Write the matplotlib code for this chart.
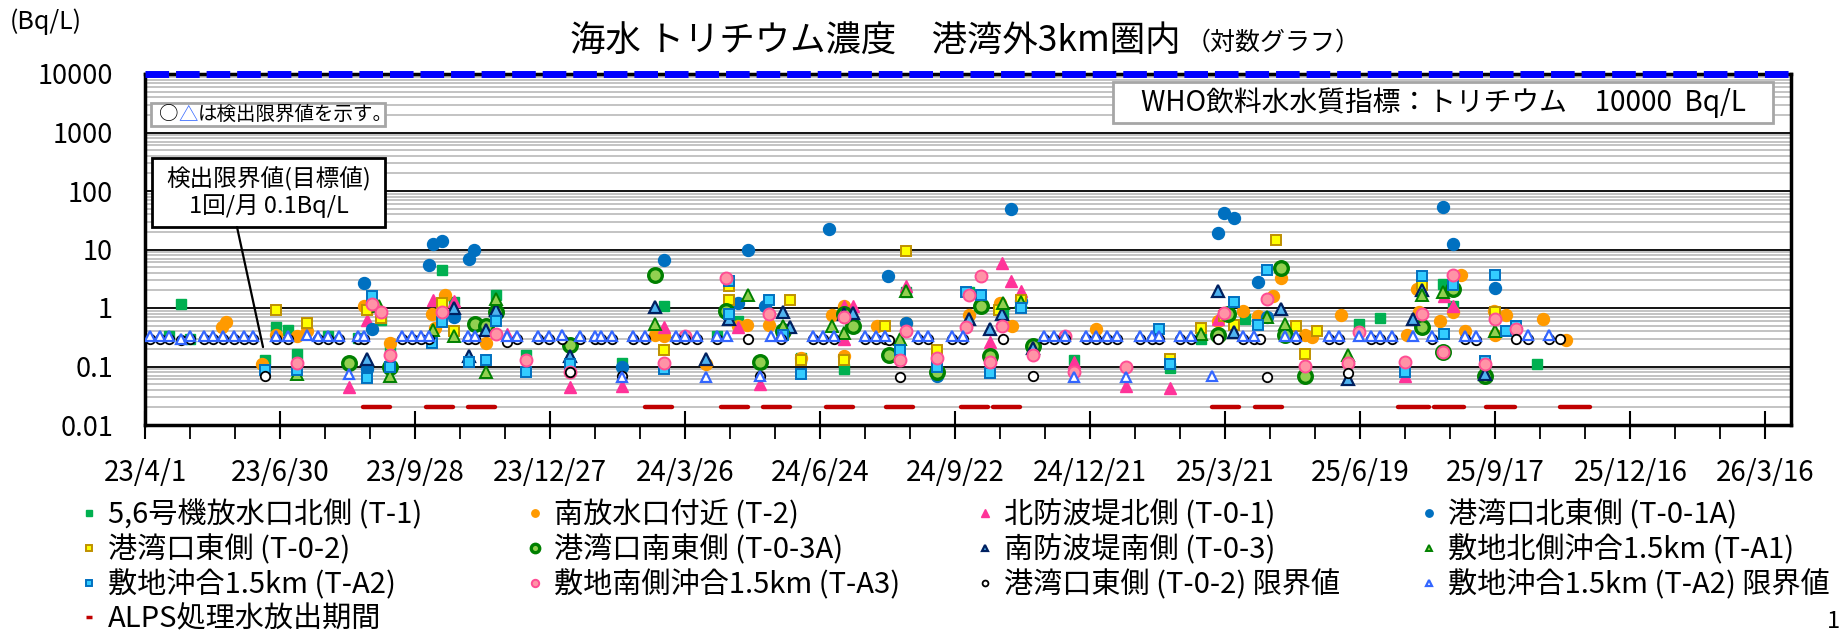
import numpy as np
import pandas as pd
import matplotlib
matplotlib.use('Agg')
import matplotlib.pyplot as plt
from matplotlib.lines import Line2D
from matplotlib.patches import Rectangle
from matplotlib.ticker import FixedLocator, LogLocator, NullFormatter

plt.rcParams['font.family'] = ['Noto Sans CJK JP', 'DejaVu Sans']

# 採取日は 2023/4/1 からの経過日数
START = np.datetime64('2023-04-01')
X_END = np.datetime64('2026-04-02')
WHO_LIMIT = 10000
ALPS_LEVEL = 0.02

t1_day = [16, 24, 30, 80, 87, 95, 101, 122, 142, 157,
          163, 198, 206, 234, 254, 318, 346, 381, 395, 437,
          466, 507, 549, 572, 619, 683, 704, 733, 809, 823,
          865, 872, 893, 928]
t1_val = [0.33, 1.19, 0.30, 0.127, 0.47, 0.42, 0.165, 0.33, 0.31, 0.63,
          0.19, 4.4, 1.27, 1.65, 0.16, 0.115, 1.1, 0.33, 0.61, 0.14,
          0.089, 1.9, 1.9, 0.8, 0.13, 0.095, 0.3, 0.66, 0.54, 0.67,
          2.6, 1.07, 0.11, 0.11]

t2_day = [51, 54, 78, 87, 101, 108, 146, 163, 191, 193,
          200, 227, 340, 346, 374, 395, 401, 416, 425, 437,
          458, 466, 466, 488, 507, 549, 570, 578, 634, 715,
          732, 742, 752, 757, 773, 778, 797, 841, 848, 849,
          863, 872, 877, 880, 899, 900, 907, 932, 947]
t2_val = [0.47, 0.58, 0.11, 0.35, 0.33, 0.41, 1.07, 0.25, 0.8, 0.45,
          1.7, 0.25, 0.34, 0.33, 0.11, 0.5, 0.52, 0.52, 0.34, 0.14,
          0.75, 1.1, 0.15, 0.5, 0.55, 0.75, 1.2, 0.5, 0.43, 0.6,
          0.9, 0.73, 1.6, 3.2, 0.34, 0.32, 0.75, 0.34, 2.1, 0.85,
          0.6, 0.85, 3.6, 0.41, 0.9, 0.35, 0.75, 0.66, 0.28]

t01_day = [136, 148, 192, 206, 241, 283, 318, 346, 395, 410,
           466, 466, 472, 507, 563, 571, 577, 584, 619, 654,
           683, 715, 840, 866, 872]
t01_val = [0.044, 0.63, 1.35, 1.3, 0.36, 0.044, 0.047, 0.48, 0.48, 0.05,
           1.1, 0.29, 1.07, 2.35, 0.26, 5.9, 2.9, 1.96, 0.12, 0.047,
           0.043, 0.65, 0.07, 1.6, 1.1]

t01a_day = [146, 148, 151, 189, 192, 198, 206, 216, 219, 318,
            346, 395, 402, 413, 456, 495, 507, 528, 577, 584,
            715, 719, 726, 742, 748, 865, 872, 900]
t01a_val = [2.7, 0.09, 0.44, 5.5, 12.6, 14, 0.7, 7, 9.7, 0.1,
            6.6, 1.23, 9.7, 1.1, 22, 3.5, 0.55, 0.068, 50, 1.3,
            19.3, 42.6, 35, 2.8, 0.7, 54, 12.3, 2.2]

t02_day = [87, 108, 148, 157, 198, 206, 346, 389, 389, 430,
           437, 466, 493, 507, 528, 569, 584, 683, 704, 719,
           726, 754, 767, 773, 781, 851, 900]
t02_val = [0.91, 0.55, 0.91, 0.68, 1.2, 0.41, 0.195, 2.35, 1.35, 1.35,
           0.13, 0.13, 0.5, 9.4, 0.19, 0.94, 1.39, 0.135, 0.45, 0.72,
           0.52, 14.5, 0.5, 0.165, 0.41, 2.5, 0.85]

t03a_day = [136, 163, 220, 227, 234, 283, 340, 387, 410, 425,
            466, 472, 496, 528, 557, 563, 592, 715, 722, 757,
            760, 773, 851, 865, 872, 893]
t03a_val = [0.114, 0.1, 0.54, 0.5, 0.85, 0.23, 3.7, 0.89, 0.12, 0.41,
            0.8, 0.5, 0.16, 0.08, 1.1, 0.15, 0.22, 0.34, 0.8, 4.9,
            0.34, 0.07, 0.47, 0.18, 2.15, 0.068]

t03_day = [148, 206, 216, 227, 234, 283, 340, 374, 389, 425,
           430, 466, 472, 549, 563, 571, 592, 715, 726, 757,
           802, 845, 851, 893]
t03_val = [0.135, 1.0, 0.15, 0.42, 0.94, 0.15, 1.04, 0.135, 0.66, 0.85,
           0.48, 0.8, 0.82, 0.66, 0.44, 0.8, 0.21, 1.95, 0.39, 0.97,
           0.06, 0.66, 2.0, 0.075]

ta1_day = [101, 156, 163, 192, 206, 227, 234, 340, 402, 425,
           458, 466, 503, 507, 572, 584, 704, 748, 760, 802,
           851, 865, 900]
ta1_val = [0.075, 1.1, 0.07, 0.42, 0.33, 0.08, 1.45, 0.54, 1.7, 0.49,
           0.5, 0.37, 0.3, 1.95, 1.2, 1.27, 0.36, 0.7, 0.54, 0.16,
           1.7, 1.9, 0.41]

ta2_day = [80, 101, 148, 151, 163, 191, 198, 216, 227, 234,
           254, 283, 346, 389, 389, 416, 425, 437, 503, 528,
           547, 557, 563, 584, 676, 683, 726, 742, 748, 840,
           851, 866, 872, 893, 900, 907, 914]
ta2_val = [0.088, 0.088, 0.063, 1.6, 0.1, 0.25, 0.58, 0.12, 0.13, 0.6,
           0.08, 0.11, 0.09, 2.9, 0.78, 1.35, 0.34, 0.075, 0.195, 0.1,
           1.9, 1.65, 0.077, 1.0, 0.44, 0.11, 1.27, 0.52, 4.4, 0.08,
           3.5, 0.36, 2.45, 0.126, 3.7, 0.4, 0.5]

ta3_day = [101, 151, 157, 163, 198, 234, 254, 283, 346, 360,
           387, 416, 466, 503, 507, 528, 547, 549, 557, 563,
           571, 592, 613, 619, 654, 719, 748, 773, 802, 809,
           840, 851, 865, 872, 893, 900, 914]
ta3_val = [0.115, 1.19, 0.85, 0.16, 0.85, 0.36, 0.13, 0.08, 0.115, 0.33,
           3.3, 0.8, 0.7, 0.13, 0.41, 0.14, 0.47, 1.7, 3.5, 0.12,
           0.5, 0.16, 0.33, 0.08, 0.097, 0.83, 1.4, 0.104, 0.115, 0.39,
           0.12, 0.78, 0.18, 3.6, 0.11, 0.66, 0.43]

# 限界値 (検出されず)
t02lim_day = [3, 10, 16, 24, 30, 39, 45, 52, 59, 66,
              72, 80, 87, 95, 115, 122, 129, 142, 146, 171,
              178, 184, 189, 215, 220, 241, 248, 262, 269, 278,
              283, 290, 300, 304, 311, 318, 325, 333, 354, 360,
              368, 381, 402, 410, 424, 445, 452, 459, 480, 487,
              493, 496, 503, 515, 522, 538, 545, 572, 592, 599,
              606, 613, 627, 634, 641, 648, 663, 671, 676, 690,
              697, 715, 732, 739, 743, 748, 767, 789, 796, 802,
              817, 823, 831, 858, 880, 887, 914, 922, 936, 943]
t02lim_val = [0.30, 0.30, 0.30, 0.28, 0.30, 0.30, 0.30, 0.30, 0.30, 0.30,
              0.30, 0.068, 0.30, 0.30, 0.30, 0.30, 0.30, 0.30, 0.30, 0.30,
              0.30, 0.30, 0.30, 0.30, 0.30, 0.26, 0.30, 0.30, 0.30, 0.30,
              0.08, 0.30, 0.30, 0.30, 0.30, 0.07, 0.30, 0.30, 0.30, 0.30,
              0.30, 0.30, 0.30, 0.07, 0.30, 0.30, 0.30, 0.30, 0.30, 0.30,
              0.30, 0.28, 0.066, 0.30, 0.30, 0.30, 0.30, 0.30, 0.07, 0.30,
              0.30, 0.30, 0.30, 0.30, 0.30, 0.30, 0.30, 0.30, 0.29, 0.30,
              0.30, 0.29, 0.30, 0.30, 0.30, 0.066, 0.30, 0.30, 0.30, 0.077,
              0.30, 0.30, 0.30, 0.30, 0.30, 0.28, 0.30, 0.30, 0.29, 0.29]

ta2lim_day = [3, 10, 16, 24, 30, 39, 45, 52, 59, 66,
              72, 87, 95, 108, 115, 122, 129, 136, 142, 146,
              171, 178, 184, 189, 215, 220, 241, 248, 262, 269,
              278, 290, 300, 304, 311, 318, 325, 333, 354, 360,
              368, 374, 381, 388, 410, 417, 424, 445, 452, 459,
              480, 487, 493, 515, 522, 538, 545, 599, 606, 613,
              619, 627, 634, 641, 648, 654, 663, 671, 676, 690,
              697, 711, 732, 739, 760, 767, 789, 796, 809, 817,
              823, 831, 845, 858, 880, 887, 922, 936]
ta2lim_val = [0.33, 0.33, 0.33, 0.30, 0.33, 0.33, 0.33, 0.33, 0.33, 0.33,
              0.33, 0.33, 0.33, 0.34, 0.33, 0.33, 0.33, 0.075, 0.33, 0.33,
              0.33, 0.33, 0.33, 0.33, 0.33, 0.33, 0.33, 0.33, 0.33, 0.33,
              0.34, 0.33, 0.33, 0.33, 0.33, 0.066, 0.33, 0.33, 0.33, 0.33,
              0.33, 0.066, 0.33, 0.33, 0.068, 0.33, 0.33, 0.33, 0.33, 0.33,
              0.33, 0.33, 0.33, 0.33, 0.33, 0.33, 0.33, 0.33, 0.33, 0.33,
              0.067, 0.33, 0.33, 0.33, 0.33, 0.067, 0.33, 0.33, 0.33, 0.33,
              0.33, 0.07, 0.33, 0.33, 0.33, 0.33, 0.33, 0.33, 0.33, 0.33,
              0.33, 0.33, 0.33, 0.33, 0.33, 0.33, 0.34, 0.34]

alps_start = ['2023-08-24', '2023-10-05', '2023-11-02', '2024-02-28',
              '2024-04-19', '2024-05-17', '2024-06-28', '2024-08-07',
              '2024-09-26', '2024-10-17', '2025-03-12', '2025-04-10',
              '2025-07-14', '2025-08-07', '2025-09-11', '2025-10-30']
alps_end = ['2023-09-11', '2023-10-23', '2023-11-20', '2024-03-17',
            '2024-05-07', '2024-06-04', '2024-07-16', '2024-08-25',
            '2024-10-14', '2024-11-04', '2025-03-30', '2025-04-28',
            '2025-08-04', '2025-08-27', '2025-09-30', '2025-11-19']

labels = ['5,6号機放水口北側 (T-1)', '南放水口付近 (T-2)', '北防波堤北側 (T-0-1)',
          '港湾口北東側 (T-0-1A)', '港湾口東側 (T-0-2)', '港湾口南東側 (T-0-3A)',
          '南防波堤南側 (T-0-3)', '敷地北側沖合1.5km (T-A1)', '敷地沖合1.5km (T-A2)',
          '敷地南側沖合1.5km (T-A3)', '港湾口東側 (T-0-2) 限界値',
          '敷地沖合1.5km (T-A2) 限界値']
alps_label = 'ALPS処理水放出期間'

series_days = [t1_day, t2_day, t01_day, t01a_day, t02_day, t03a_day,
               t03_day, ta1_day, ta2_day, ta3_day, t02lim_day, ta2lim_day]
series_vals = [t1_val, t2_val, t01_val, t01a_val, t02_val, t03a_val,
               t03_val, ta1_val, ta2_val, ta3_val, t02lim_val, ta2lim_val]

styles = [
    dict(marker='s', ms=7.5, mfc='#00B050', mec='#00B050', mew=1),
    dict(marker='o', ms=8.6, mfc='#FF9A00', mec='#FF9A00', mew=1),
    dict(marker='^', ms=8.3, mfc='#FF3399', mec='#FF3399', mew=1),
    dict(marker='o', ms=8.6, mfc='#0070C0', mec='#0070C0', mew=1),
    dict(marker='s', ms=7.5, mfc='#FFFF00', mec='#BF9000', mew=1.4),
    dict(marker='o', ms=9.8, mfc='#92D050', mec='#008000', mew=2.4),
    dict(marker='^', ms=8, mfc='#4FB3F0', mec='#002060', mew=1.6),
    dict(marker='^', ms=8, mfc='#92D050', mec='#008000', mew=1.4),
    dict(marker='s', ms=7.5, mfc='#33CCFF', mec='#0070C0', mew=1.4),
    dict(marker='o', ms=8.6, mfc='#FF93A6', mec='#FF4D94', mew=1.4),
    dict(marker='o', ms=6.8, mfc='white', mec='black', mew=1.3),
    dict(marker='^', ms=7.8, mfc='white', mec='#3366FF', mew=1.6),
]


def to_dates(days):
    return START + np.array(days, dtype='timedelta64[D]')


fig = plt.figure(figsize=(18.45, 6.35), dpi=100)
W, H = 1845, 635
ax = fig.add_axes([145 / W, 1 - 425 / H, (1791 - 145) / W, (425 - 74) / H])

for d, v, st in zip(series_days, series_vals, styles):
    ax.plot(to_dates(d), v, linestyle='none', zorder=3, **st)

for s, e in zip(alps_start, alps_end):
    ax.plot([np.datetime64(s), np.datetime64(e)], [ALPS_LEVEL, ALPS_LEVEL],
            color='#C00000', lw=3.2, solid_capstyle='round', zorder=3)

ax.set_yscale('log')
ax.set_ylim(0.01, 10000)
ax.set_xlim(START, X_END)

ydec = [0.01, 0.1, 1, 10, 100, 1000, 10000]
ax.yaxis.set_major_locator(FixedLocator(ydec))
ax.set_yticklabels(['0.01', '0.1', '1', '10', '100', '1000', '10000'])
ax.yaxis.set_minor_locator(LogLocator(base=10, subs=np.arange(2, 10)))
ax.yaxis.set_minor_formatter(NullFormatter())
ax.tick_params(axis='y', which='major', length=0, pad=23, labelsize=19.5)
ax.tick_params(axis='y', which='minor', length=0)

major = pd.date_range('2023-04-01', periods=13, freq='90D')
minor = pd.date_range('2023-04-01', '2026-04-02', freq='30D')
ax.set_xticks(major.values)
ax.set_xticklabels([f'{d.year % 100}/{d.month}/{d.day}' for d in major])
ax.set_xticks(minor.values, minor=True)
ax.tick_params(axis='x', which='major', direction='inout', length=20, width=1.5,
               pad=14, labelsize=20)
ax.tick_params(axis='x', which='minor', direction='out', length=10, width=1.3)

ax.yaxis.grid(True, which='major', color='black', lw=1.3)
ax.yaxis.grid(True, which='minor', color='#C3C3C3', lw=1.4)
ax.set_axisbelow(True)
for sp in ax.spines.values():
    sp.set_linewidth(2.5)
    sp.set_color('black')

ax.axhline(WHO_LIMIT, color='#0000FF', lw=5, dashes=(3.4, 1.0), clip_on=False, zorder=6)

# text boxes
ax.add_patch(Rectangle((0.0036, 0.852), 0.1422, 0.065, transform=ax.transAxes,
                       fc='white', ec='#A6A6A6', lw=2, zorder=4))
tb1 = ax.text(0.0085, 0.885, '○', transform=ax.transAxes, fontsize=14,
              va='center', ha='left', zorder=5)
tb2 = ax.annotate('△', xy=(1, 0), xycoords=tb1, va='bottom', ha='left',
                  fontsize=14, color='#3366FF', zorder=5)
ax.annotate('は検出限界値を示す。', xy=(1, 0), xycoords=tb2, va='bottom',
            ha='left', fontsize=14, zorder=5)

ax.add_patch(Rectangle((0.588, 0.860), 0.401, 0.117, transform=ax.transAxes,
                       fc='white', ec='#A6A6A6', lw=2, zorder=4))
ax.text(0.789, 0.919, 'WHO飲料水水質指標：トリチウム　10000  Bq/L',
        transform=ax.transAxes, fontsize=20, va='center', ha='center', zorder=5)

ax.add_patch(Rectangle((0.0042, 0.564), 0.1416, 0.197, transform=ax.transAxes,
                       fc='white', ec='black', lw=2, zorder=4))
ax.text(0.075, 0.662, '検出限界値(目標値)\n1回/月 0.1Bq/L', transform=ax.transAxes,
        fontsize=17, va='center', ha='center', linespacing=1.15, zorder=5)
ax.annotate('', xy=(0.0717, 0.222), xycoords='axes fraction',
            xytext=(0.0559, 0.564), textcoords='axes fraction',
            arrowprops=dict(arrowstyle='-', lw=1.6, color='black',
                            shrinkA=0, shrinkB=0), zorder=5)

# title and unit
fig.text(1180 / W, 1 - 42 / H, '海水 トリチウム濃度　港湾外3km圏内', fontsize=25.5,
         ha='right', va='center')
fig.text(1186 / W, 1 - 43 / H, '（対数グラフ）', fontsize=18, ha='left', va='center')
fig.text(10 / W, 1 - 22 / H, '(Bq/L)', fontsize=18, ha='left', va='center')
fig.text(1840 / W, 1 - 633 / H, '1', fontsize=17, ha='right', va='bottom')

# legend: 4 columns, row-major order like the original
handles = [Line2D([], [], linestyle='none', **dict(st, ms=st['ms'] * 0.62))
           for st in styles]
alps_handle = Line2D([], [], linestyle='none', marker='_', ms=4, mew=2.5,
                     color='#C00000')
columns = [[0, 4, 8, 'alps'], [1, 5, 9], [2, 6, 10], [3, 7, 11]]
col_left = [80, 526, 976, 1420]
for idxs, xl in zip(columns, col_left):
    hs, ls = [], []
    for i in idxs:
        if i == 'alps':
            hs.append(alps_handle)
            ls.append(alps_label)
        else:
            hs.append(handles[i])
            ls.append(labels[i])
    fig.legend(hs, ls, loc='upper left', bbox_to_anchor=(xl / W, 1 - 500 / H),
               frameon=False, fontsize=21, handlelength=0.6, handletextpad=0.35,
               labelspacing=0.15, borderpad=0, borderaxespad=0)

fig.savefig('out.png', dpi=100)
